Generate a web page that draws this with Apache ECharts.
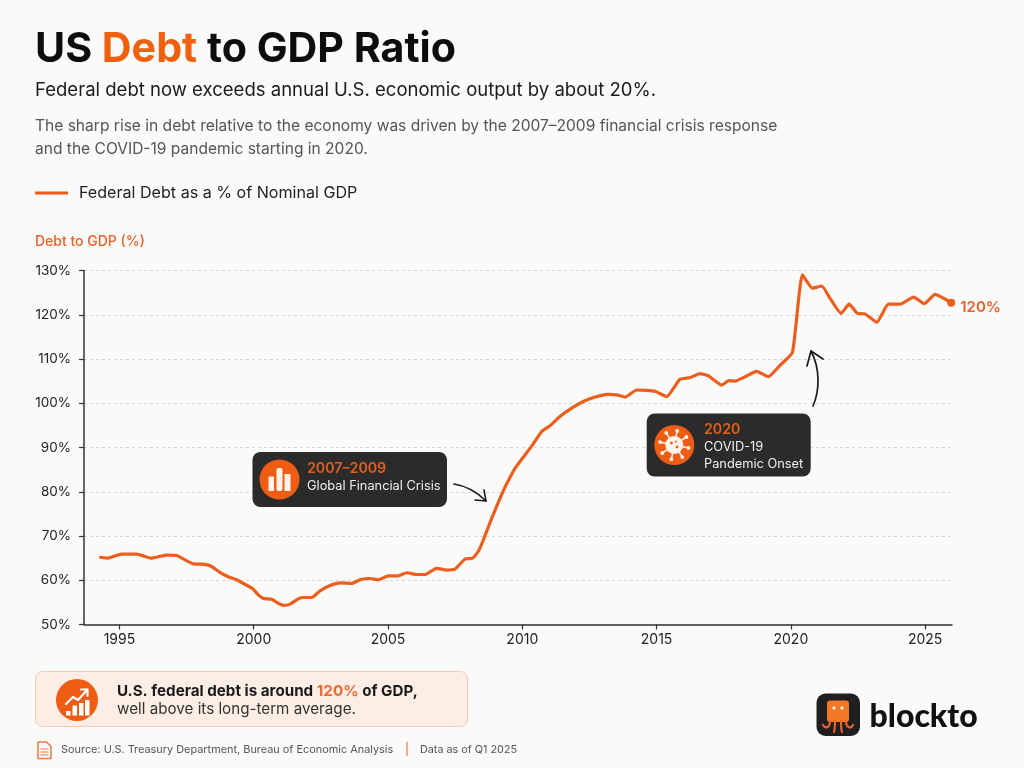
<!DOCTYPE html>
<html><head><meta charset="utf-8">
<style>html,body{margin:0;padding:0;background:#fafaf8}#c{width:1024px;height:768px}</style>
<script src="https://cdn.jsdelivr.net/npm/echarts@6/dist/echarts.min.js"></script>
</head><body><div id="c"></div>
<script>
const years=[1994.30,1994.58,1994.83,1995.08,1995.39,1995.64,1995.89,1996.17,1996.45,1996.76,1997.13,1997.44,1997.75,1998.18,1998.43,1998.74,1999.05,1999.36,1999.67,1999.96,2000.17,2000.36,2000.67,2000.91,2001.13,2001.35,2001.66,2001.85,2002.16,2002.47,2002.84,2003.21,2003.65,2003.96,2004.33,2004.64,2005.01,2005.38,2005.70,2006.07,2006.38,2006.81,2007.19,2007.49,2007.87,2008.15,2008.36,2008.55,2008.86,2009.17,2009.36,2009.73,2010.35,2010.72,2011.03,2011.40,2011.84,2012.27,2012.65,2013.20,2013.52,2013.83,2014.26,2014.64,2014.94,2015.38,2015.87,2016.25,2016.62,2016.93,2017.43,2017.68,2017.92,2018.30,2018.73,2019.16,2019.60,2020.06,2020.43,2020.80,2021.15,2021.46,2021.87,2022.17,2022.48,2022.76,2023.20,2023.63,2024.07,2024.57,2024.97,2025.37,2025.97];
const debtPct=[65.2,65.0,65.5,65.9,65.9,65.9,65.5,65.0,65.3,65.7,65.6,64.6,63.7,63.6,63.1,61.8,60.8,60.1,59.1,58.1,56.7,55.9,55.7,54.8,54.3,54.6,55.8,56.1,56.1,57.6,58.8,59.4,59.3,60.1,60.4,60.1,61.0,61.0,61.7,61.3,61.3,62.7,62.3,62.5,64.8,65.0,66.5,69.1,74.0,78.5,81.1,85.3,90.3,93.6,94.9,97.0,98.9,100.4,101.3,102.0,101.9,101.4,103.0,102.9,102.7,101.5,105.4,105.8,106.7,106.2,104.1,105.1,105.0,106.0,107.2,106.0,108.6,111.5,129.0,126.0,126.5,123.7,120.3,122.4,120.3,120.2,118.3,122.4,122.4,124.0,122.5,124.6,122.7];
const xTicks=[1995,2000,2005,2010,2015,2020,2025];
const seriesName='Federal Debt as a % of Nominal GDP';
const ORANGE='#ec5e1e', DARK='#2b2b2b', F='Inter';

const txt=(x,y,text,o={})=>({type:'text',x,y,silent:true,style:Object.assign({text,fontFamily:F,fontSize:14,fill:'#222',verticalAlign:'middle'},o)});
const rect=(x,y,w,h,r,fill,extra={})=>({type:'rect',silent:true,shape:{x,y,width:w,height:h,r},style:Object.assign({fill},extra)});
const circ=(cx,cy,r,fill)=>({type:'circle',silent:true,shape:{cx,cy,r},style:{fill}});
const lineStyle=(stroke,w)=>({fill:'none',stroke,lineWidth:w,lineCap:'round',lineJoin:'round'});
const poly=(points,stroke,w)=>({type:'polyline',silent:true,shape:{points},style:lineStyle(stroke,w)});
const bez=(x1,y1,cpx1,cpy1,cpx2,cpy2,x2,y2,stroke,w)=>({type:'bezierCurve',silent:true,shape:{x1,y1,cpx1,cpy1,cpx2,cpy2,x2,y2},style:lineStyle(stroke,w)});

const spikes=[];
for(let i=0;i<8;i++){
  const a=i*Math.PI/4+0.2, c=Math.cos(a), s=Math.sin(a), cx=674.3, cy=445;
  spikes.push({type:'line',silent:true,shape:{x1:cx+8*c,y1:cy+8*s,x2:cx+14*c,y2:cy+14*s},style:{stroke:'#fff3ea',lineWidth:1.6}});
  spikes.push(circ(cx+14.5*c,cy+14.5*s,1.9,'#fff3ea'));
}

const graphics=[
  {type:'text',x:35,y:29.5,silent:true,style:{text:'{a|US }{b|Debt}{a| to GDP Ratio}',rich:{a:{fontFamily:F,fontSize:41.2,fontWeight:700,fill:'#0d0d0d'},b:{fontFamily:F,fontSize:41.2,fontWeight:700,fill:'#f0600f'}}}},
  txt(35,90,'Federal debt now exceeds annual U.S. economic output by about 20%.',{fontSize:18.55,fontWeight:400,fill:'#1c1c1c'}),
  txt(35,126,'The sharp rise in debt relative to the economy was driven by the 2007–2009 financial crisis response',{fontSize:15.55,fill:'#555'}),
  txt(35,149,'and the COVID-19 pandemic starting in 2020.',{fontSize:15.55,fill:'#555'}),

  rect(252.5,452,194.5,55,8,DARK),
  circ(279.5,479.5,20,'#ef5d14'),
  rect(268.5,476.5,5.5,14.5,0,'#fff3ea'),rect(276.5,468,6,23,2,'#fff3ea'),rect(284.5,474,6,17,0,'#fff3ea'),
  txt(307,468.5,'2007–2009',{fontSize:14.2,fontWeight:600,fill:'#e8601c'}),
  txt(307,486,'Global Financial Crisis',{fontSize:12.8,fill:'#f0f0f0'}),
  bez(454,484,467,486,477,492,486,501,'#1a1a1a',1.6),
  poly([[475,500],[486,501],[484,490]],'#1a1a1a',1.6),

  rect(646.7,413.5,164,63,8,DARK),
  circ(674.3,445,20,'#ef5d14'),
  ...spikes,
  circ(674.3,445,9,'#fff3ea'),circ(671.5,443,1.4,'#ef5d14'),circ(677,447,1.4,'#ef5d14'),circ(676,441.5,1,'#ef5d14'),
  txt(704,429.5,'2020',{fontSize:14.2,fontWeight:600,fill:'#e8601c'}),
  txt(704,447,'COVID-19',{fontSize:12.8,fill:'#f0f0f0'}),
  txt(704,464,'Pandemic Onset',{fontSize:12.8,fill:'#f0f0f0'}),
  bez(813,406,820,390,820,368,811,351,'#1a1a1a',1.7),
  poly([[807,366],[811,351],[823,359]],'#1a1a1a',1.7),

  rect(35.5,671.5,432,55,7,'#fdeee5',{stroke:'#f6cbb0',lineWidth:1}),
  circ(77,700,21,'#ef5d14'),
  rect(66,711,4.5,4.5,0,'#fff'),rect(72.5,705.5,4.5,10,0,'#fff'),rect(79,703,4.5,12.5,0,'#fff'),rect(85,700,4.5,15.5,0,'#fff'),
  poly([[66,704],[73,697],[78,700],[87,690]],'#fff',2.2),
  poly([[81,689.5],[87.5,689.5],[87.5,696]],'#fff',2.2),
  {type:'text',x:117,y:691,silent:true,style:{text:'{a|U.S. federal debt is around }{b|120%}{a| of GDP,}',verticalAlign:'middle',rich:{a:{fontFamily:F,fontSize:15.2,fontWeight:700,fill:'#1a1a1a'},b:{fontFamily:F,fontSize:15.2,fontWeight:700,fill:'#ef6a2c'}}}},
  txt(117,709.5,'well above its long-term average.',{fontSize:15.2,fill:'#333'}),

  poly([[38,742],[46.5,742],[51,746.5],[51,758.5],[38,758.5],[38,742]],'#ea7a4a',1.5),
  poly([[41,749],[48,749]],'#ea7a4a',1.1),poly([[41,752],[48,752]],'#ea7a4a',1.1),poly([[41,755],[48,755]],'#ea7a4a',1.1),
  txt(61,750,'Source: U.S. Treasury Department, Bureau of Economic Analysis',{fontSize:10.9,fill:'#555'}),
  txt(405,749.5,'|',{fontSize:12,fill:'#ea5b1c'}),
  txt(420,750,'Data as of Q1 2025',{fontSize:10.8,fill:'#555'}),

  rect(816.5,693.5,43.5,42.5,9,'#1f1f21'),
  rect(827,700.5,22,21.5,3,'#f27a26'),
  circ(834,708,1.5,'#fff'),circ(842,708,1.5,'#fff'),
  bez(830,721,830,728,825,729,823,725,'#e8622a',2.2),
  bez(835,721,835,727,835,729,834,732,'#e8622a',2.2),
  bez(841,721,841,727,841,729,842,732,'#e8622a',2.2),
  bez(846,721,846,728,851,729,853,725,'#e8622a',2.2),
  txt(869.5,717,'blockto',{fontSize:32,fontWeight:900,fontFamily:'Lato',fill:'#111'})
].map(e=>Object.assign(e,{z:100}));

const chart=echarts.init(document.getElementById('c'));
chart.setOption({
  animation:false,
  backgroundColor:'#fafaf8',
  grid:{left:84,right:72,top:270.5,bottom:143.5,outerBoundsMode:'none'},
  legend:{left:35,top:185,padding:0,icon:'rect',itemWidth:33,itemHeight:3,data:[seriesName],
    textStyle:{fontFamily:F,fontSize:16.1,color:'#222',padding:[0,0,0,6]}},
  xAxis:{type:'value',min:1993.68,max:2026,splitLine:{show:false},
    axisLine:{lineStyle:{color:'#333',width:1.5}},
    axisTick:{length:5,lineStyle:{color:'#333',width:1.2},customValues:xTicks},
    axisLabel:{customValues:xTicks,formatter:v=>String(Math.round(v)),fontFamily:F,fontSize:14,color:'#222',margin:8}},
  yAxis:{type:'value',min:50,max:130,interval:10,
    name:'Debt to GDP (%)',nameLocation:'end',nameGap:22,
    nameTextStyle:{fontFamily:F,fontSize:14,fontWeight:500,color:'#e8602a',align:'left',padding:[0,0,0,-49]},
    axisLine:{show:true,lineStyle:{color:'#333',width:1.5}},
    axisTick:{show:true,length:5,lineStyle:{color:'#333',width:1.2}},
    splitLine:{lineStyle:{color:'#d6d6d6',type:[3,3],width:1}},
    axisLabel:{formatter:'{value}%',fontFamily:F,fontSize:13.5,color:'#222',margin:13}},
  series:[{type:'line',name:seriesName,data:years.map((y,i)=>[y,debtPct[i]]),
    showSymbol:false,smooth:0.15,
    lineStyle:{color:ORANGE,width:3.2,cap:'round',join:'round'},itemStyle:{color:ORANGE},
    endLabel:{show:true,formatter:'120%',color:'#e8602a',fontFamily:F,fontSize:15,fontWeight:600,distance:9,offset:[0,5]},
    markPoint:{silent:true,symbol:'circle',symbolSize:8,itemStyle:{color:ORANGE},label:{show:false},
      data:[{coord:[years[years.length-1],debtPct[debtPct.length-1]]}]}
  }],
  graphic:{elements:graphics}
});
</script></body></html>
